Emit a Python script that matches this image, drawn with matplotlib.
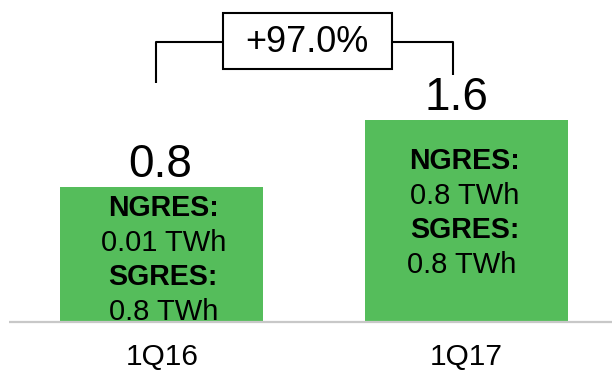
import numpy as np
import matplotlib.pyplot as plt
from matplotlib.patches import Rectangle

# Quarterly output, TWh
quarters = ['1Q16', '1Q17']
totals = [0.8, 1.6]
ngres = ['0.01 TWh', '0.8 TWh']
sgres = ['0.8 TWh', '0.8 TWh']
growth = '+97.0%'

plt.rcParams['font.family'] = ['Liberation Sans', 'DejaVu Sans']

green = '#55bd5b'
base = -0.8  # bars start from a common floor, not from zero

fig = plt.figure(figsize=(6.12, 3.73), dpi=100)
ax = fig.add_axes([0, 0, 1, 1])
ax.set_xlim(-0.531, 1.478)
ax.set_ylim(-1.421, 3.035)
ax.axis('off')

x = np.arange(len(quarters))
heights = np.array(totals) - base
ax.bar(x, heights, bottom=base, width=0.667, color=green, zorder=2)

# floor line
ax.hlines(base - 0.012, -0.50, 1.478, color='#c8c8c8', lw=1.6, zorder=3)

# value labels above bars
label_dx = [-0.005, -0.033]
for xi, v, dx in zip(x, totals, label_dx):
    ax.text(xi + dx, v + 0.12, f'{v:.1f}', ha='center', va='baseline',
            fontsize=33, color='black')

# breakdown text inside bars
first_line = [0.454, 1.012]
step = 0.412
text_dx = [0.005, -0.005]
for i in range(len(quarters)):
    cx = x[i] + text_dx[i]
    y0 = first_line[i]
    ax.text(cx, y0, 'NGRES:', ha='center', va='baseline', fontsize=20.6,
            fontweight='bold')
    ax.text(cx, y0 - step, ngres[i], ha='center', va='baseline', fontsize=21)
    ax.text(cx, y0 - 2 * step, 'SGRES:', ha='center', va='baseline', fontsize=20.6,
            fontweight='bold')
    ax.text(cx - (0.012 if i else 0), y0 - 3 * step, sgres[i], ha='center',
            va='baseline', fontsize=21, zorder=4)

# category labels
for xi, q in zip(x, quarters):
    ax.text(xi, -1.33, q, ha='center', va='baseline', fontsize=21.5)

# growth bracket
y_bar = 2.539
ax.plot([-0.020, -0.020, 0.200], [2.043, y_bar, y_bar], color='black', lw=1.5,
        solid_capstyle='butt', zorder=3)
ax.plot([0.755, 0.957, 0.957], [y_bar, y_bar, 2.139], color='black', lw=1.5,
        solid_capstyle='butt', zorder=3)
ax.add_patch(Rectangle((0.200, 2.207), 0.555, 0.669, facecolor='white',
                       edgecolor='black', lw=1.5, zorder=3))
ax.text(0.4775, 2.53, growth, ha='center', va='center', fontsize=26, zorder=4)

fig.savefig('out.png', dpi=100)
